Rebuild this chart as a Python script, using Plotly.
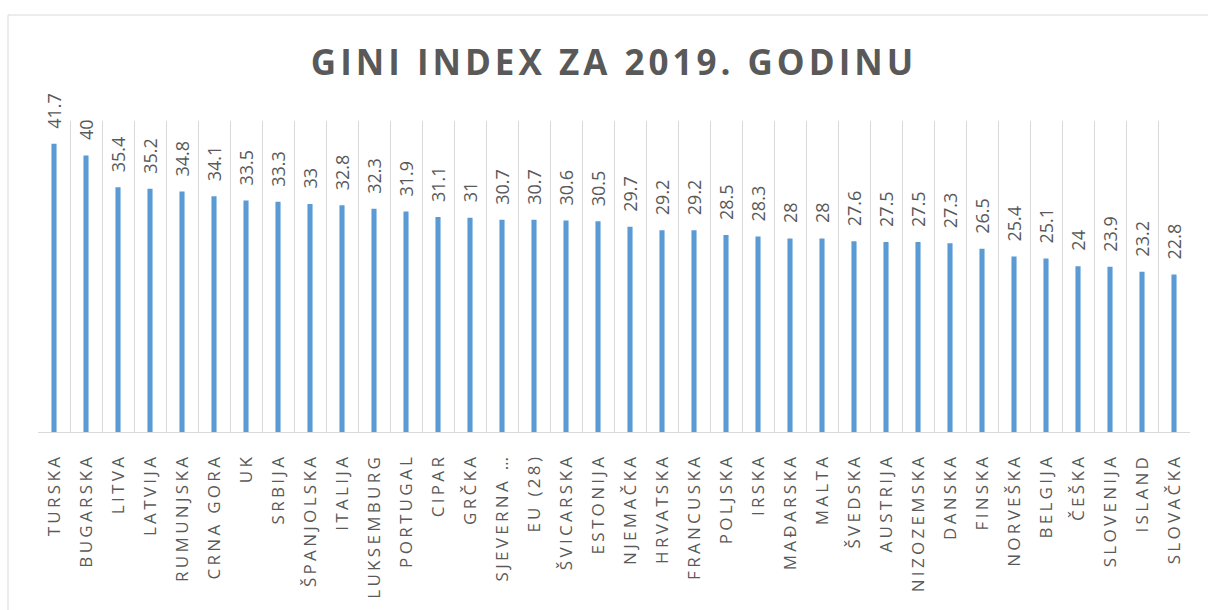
import plotly.graph_objects as go

countries = ["TURSKA", "BUGARSKA", "LITVA", "LATVIJA", "RUMUNJSKA", "CRNA GORA", "UK",
             "SRBIJA", "ŠPANJOLSKA", "ITALIJA", "LUKSEMBURG", "PORTUGAL", "CIPAR", "GRČKA",
             "SJEVERNA …", "EU (28)", "ŠVICARSKA", "ESTONIJA", "NJEMAČKA", "HRVATSKA",
             "FRANCUSKA", "POLJSKA", "IRSKA", "MAĐARSKA", "MALTA", "ŠVEDSKA", "AUSTRIJA",
             "NIZOZEMSKA", "DANSKA", "FINSKA", "NORVEŠKA", "BELGIJA", "ČEŠKA", "SLOVENIJA",
             "ISLAND", "SLOVAČKA"]
gini = [41.7, 40, 35.4, 35.2, 34.8, 34.1, 33.5, 33.3, 33, 32.8, 32.3, 31.9, 31.1, 31,
        30.7, 30.7, 30.6, 30.5, 29.7, 29.2, 29.2, 28.5, 28.3, 28, 28, 27.6, 27.5, 27.5,
        27.3, 26.5, 25.4, 25.1, 24, 23.9, 23.2, 22.8]
value_labels = ["41.7", "40", "35.4", "35.2", "34.8", "34.1", "33.5", "33.3", "33", "32.8",
                "32.3", "31.9", "31.1", "31", "30.7", "30.7", "30.6", "30.5", "29.7", "29.2",
                "29.2", "28.5", "28.3", "28", "28", "27.6", "27.5", "27.5", "27.3", "26.5",
                "25.4", "25.1", "24", "23.9", "23.2", "22.8"]
title_text = "GINI INDEX ZA 2019. GODINU"

GRAY = "#595959"
FONT = "Open Sans"


def spaced(s, px):
    return '<span style="letter-spacing:%spx">%s</span>' % (px, s)


fig = go.Figure()
fig.add_trace(go.Bar(x=countries, y=gini, width=0.16, marker_color="#5B9BD5",
                     marker_line_width=0, hoverinfo="x+y"))

for c, v, t in zip(countries, gini, value_labels):
    fig.add_annotation(x=c, y=v, text=t, textangle=-90, showarrow=False,
                       xanchor="center", yanchor="bottom", yshift=13,
                       font=dict(family=FONT, size=18, color=GRAY))

W, H = 1208, 610
L, R, T, B = 38, 18, 121, 178
pw, ph = W - L - R, H - T - B


def px_x(px):
    return (px - L) / pw


def px_y(py):
    return (H - B - py) / ph


fig.add_shape(type="rect", xref="paper", yref="paper",
              x0=px_x(8), x1=px_x(1225), y0=px_y(625), y1=px_y(15),
              line=dict(color="#d9d9d9", width=1), fillcolor="rgba(0,0,0,0)", layer="below")

fig.update_layout(
    width=W, height=H,
    margin=dict(l=L, r=R, t=T, b=B),
    paper_bgcolor="white", plot_bgcolor="white",
    showlegend=False,
    title=dict(text=spaced(title_text, 4), x=0.5, xref="paper", xanchor="center",
               y=1 - 63 / H, yanchor="middle", yref="container", automargin=False,
               font=dict(family=FONT, size=35, color=GRAY, weight="bold")),
    bargap=0.84,
)
fig.update_xaxes(type="category", tickson="boundaries", showgrid=True, gridcolor="#d9d9d9",
                 gridwidth=1, showline=True, linecolor="#d9d9d9", linewidth=1,
                 ticks="", tickangle=-90, ticklabelstandoff=14, automargin=False,
                 tickmode="array", tickvals=countries,
                 ticktext=[spaced(c, 3.3) for c in countries],
                 tickfont=dict(family=FONT, size=17, color=GRAY), range=[-0.5, 35.5])
fig.update_yaxes(range=[0, 45], showgrid=False, showticklabels=False, zeroline=False,
                 showline=False, automargin=False)

fig.write_html("out.html")
